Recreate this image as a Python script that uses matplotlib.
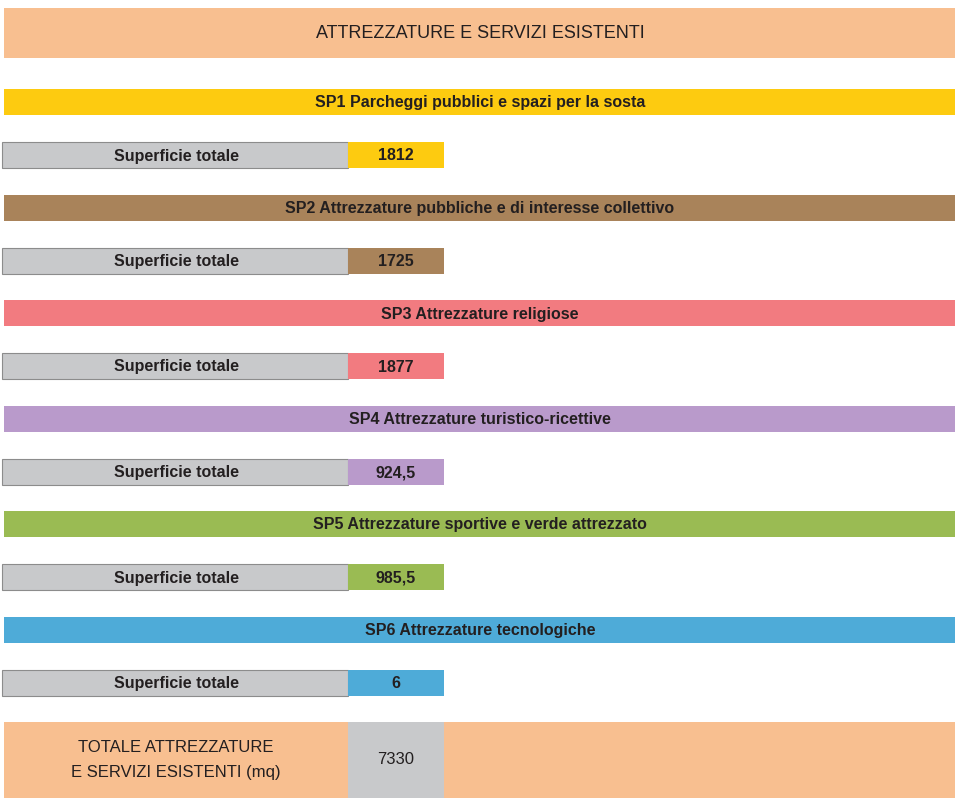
import matplotlib.pyplot as plt
from matplotlib.patches import Rectangle

# data
title = "ATTREZZATURE E SERVIZI ESISTENTI"
categories = [
    "SP1 Parcheggi pubblici e spazi per la sosta",
    "SP2 Attrezzature pubbliche e di interesse collettivo",
    "SP3 Attrezzature religiose",
    "SP4 Attrezzature turistico-ricettive",
    "SP5 Attrezzature sportive e verde attrezzato",
    "SP6 Attrezzature tecnologiche",
]
values = ["1812", "1725", "1877", "924,5", "985,5", "6"]
row_label = "Superficie totale"
total_label = "TOTALE ATTREZZATURE\nE SERVIZI ESISTENTI (mq)"
total_value = "7330"

colors = ["#FDCB10", "#A9835A", "#F27B80", "#B99ACB", "#9ABB53", "#4EABD8"]
orange = "#F8BF90"
gray = "#C8C9CB"

plt.rcParams['font.family'] = ['Liberation Sans Narrow', 'Liberation Sans', 'DejaVu Sans']

fig = plt.figure(figsize=(9.6, 8.01), dpi=100)
ax = fig.add_axes([0, 0, 1, 1])
ax.set_xlim(0, 960)
ax.set_ylim(801, 0)
ax.axis('off')

# title box
ax.add_patch(Rectangle((4, 8), 951, 50, color=orange, lw=0))
ax.text(480, 33, title, ha='center', va='center', fontsize=13, color='#231F20')

step = 105.5
for i, (cat, val, col) in enumerate(zip(categories, values, colors)):
    y0 = 89 + step * i
    ax.add_patch(Rectangle((4, y0), 951, 26, color=col, lw=0))
    ax.text(480, y0 + 14, cat, ha='center', va='center', fontsize=11.5,
            fontweight='bold', color='#231F20')
    y1 = y0 + 53
    ax.add_patch(Rectangle((2, y1), 346, 26, facecolor=gray, edgecolor='#8C8C8C', lw=0.8))
    ax.add_patch(Rectangle((348, y1), 96, 26, color=col, lw=0))
    ax.text(176, y1 + 14, row_label, ha='center', va='center', fontsize=11.5,
            fontweight='bold', color='#231F20')
    ax.text(396, y1 + 14, val, ha='center', va='center', fontsize=11.5,
            fontweight='bold', color='#231F20')

# total row
ax.add_patch(Rectangle((4, 722), 951, 76, color=orange, lw=0))
ax.add_patch(Rectangle((348, 722), 96, 76, color=gray, lw=0))
ax.text(176, 760, total_label, ha='center', va='center', fontsize=12,
        color='#231F20', linespacing=1.75)
ax.text(396, 760, total_value, ha='center', va='center', fontsize=12,
        color='#231F20')

fig.savefig("out.png", dpi=100, facecolor='white')
